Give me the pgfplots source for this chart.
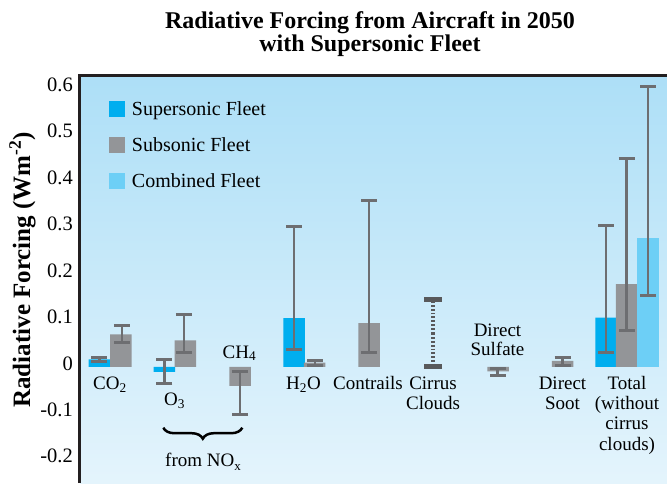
\documentclass[border=0pt]{standalone}
\usepackage{pgfplots}
\pgfplotsset{compat=1.18}
\usepackage{fontspec}
\setmainfont{Liberation Serif}
\usetikzlibrary{decorations.pathreplacing}
\definecolor{superc}{HTML}{00AEEF}
\definecolor{subc}{HTML}{939598}
\definecolor{combc}{HTML}{6DCFF6}
\definecolor{errc}{HTML}{6D6E71}
\definecolor{circ}{HTML}{58595B}
\definecolor{bgtop}{HTML}{ADDFF7}
\definecolor{bgbot}{HTML}{E4F4FC}
\definecolor{bordc}{HTML}{231F20}
\begin{document}
\begin{tikzpicture}
\begin{axis}[
  name=ax, scale only axis, width=587pt, height=407pt,
  xmin=80, xmax=667, ymin=-0.25, ymax=0.626,
  axis line style={draw=none}, tick style={draw=none},
  xtick=\empty,
  ytick={-0.2,-0.1,0,0.1,0.2,0.3,0.4,0.5,0.6},
  yticklabels={-0.2,-0.1,0,0.1,0.2,0.3,0.4,0.5,0.6},
  yticklabel style={font=\fontsize{20.5}{24}\selectfont, inner sep=0pt, xshift=-7pt, yshift=3.5pt},
  ylabel={Radiative Forcing (Wm\textsuperscript{-2})},
  ylabel style={at={(axis description cs:-0.098,0.524)}, anchor=center, font=\bfseries\fontsize{25}{28}\selectfont},
  axis background/.style={top color=bgtop, bottom color=bgbot},
  clip=false,
  legend cell align=left,
  legend style={at={(axis cs:109,0.572)}, anchor=north west, draw=none, fill=none,
    inner sep=0pt, outer sep=0pt, row sep=17pt, column sep=7pt,
    font=\fontsize{20}{24}\selectfont,
    cells={anchor=base west},
    nodes={inner sep=0pt, text height=14pt, text depth=5pt}},
  legend image code/.code={\fill[#1] (0pt,-2pt) rectangle (16pt,14pt);},
]
\addlegendimage{fill=superc, draw=none}
\addlegendentry{Supersonic Fleet}
\addlegendimage{fill=subc, draw=none}
\addlegendentry{Subsonic Fleet}
\addlegendimage{fill=combc, draw=none}
\addlegendentry{Combined Fleet}

% Supersonic fleet
\addplot[ybar, bar width=21.5, bar shift=0pt, fill=superc, draw=none] coordinates {
  (99.5,0.016) (164.5,-0.011) (294,0.105) (606,0.106)};
% Subsonic fleet
\addplot[ybar, bar width=21.5, bar shift=0pt, fill=subc, draw=none] coordinates {
  (121,0.070) (185.5,0.057) (240,-0.041) (314.5,0.009) (369,0.094) (498,-0.010) (562.5,0.013) (626.5,0.178)};
% Combined fleet
\addplot[ybar, bar width=21.5, bar shift=0pt, fill=combc, draw=none] coordinates {
  (648,0.277)};

% Error bars (midpoint +- half range)
\addplot[draw=none, mark=none, error bars/.cd, y dir=both, y explicit,
  error bar style={draw=errc, solid, line width=2.5pt},
  error mark options={draw=errc, solid, line width=3pt, mark size=8pt, rotate=90}] coordinates {
  (99.5,0.0155) +- (0,0.0045)
  (122,0.070) +- (0,0.018)
  (164.5,-0.010) +- (0,0.025)
  (184,0.0715) +- (0,0.0405)
  (240,-0.0555) +- (0,0.0465)
  (294,0.170) +- (0,0.133)
  (315,0.008) +- (0,0.006)
  (369,0.195) +- (0,0.164)
  (497.5,-0.011) +- (0,0.008)
  (562.5,0.0115) +- (0,0.0095)
  (606,0.168) +- (0,0.137)
  (626.5,0.2635) +- (0,0.1855)
  (648,0.378) +- (0,0.225)};
% Cirrus clouds range
\addplot[draw=none, mark=none, error bars/.cd, y dir=both, y explicit,
  error bar style={draw=circ, line width=4pt, dash pattern=on 1.8pt off 2pt},
  error mark options={draw=circ, solid, line width=5pt, mark size=9pt, rotate=90}] coordinates {
  (433,0.072) +- (0,0.072)};

% Category labels
\begin{scope}[every node/.style={font=\fontsize{19}{22}\selectfont, anchor=base, inner sep=0pt}]
\node at (axis cs:110,-0.0495) {CO\textsubscript{2}};
\node at (axis cs:174.5,-0.0839) {O\textsubscript{3}};
\node at (axis cs:239.5,0.0187) {CH\textsubscript{4}};
\node at (axis cs:303.5,-0.0495) {H\textsubscript{2}O};
\node at (axis cs:368,-0.048) {Contrails};
\node at (axis cs:433,-0.048) {Cirrus};
\node at (axis cs:433,-0.0925) {Clouds};
\node at (axis cs:497.5,0.0652) {Direct};
\node at (axis cs:497.5,0.0237) {Sulfate};
\node at (axis cs:562.5,-0.048) {Direct};
\node at (axis cs:562.5,-0.0925) {Soot};
\node at (axis cs:627,-0.048) {Total};
\node at (axis cs:627,-0.0925) {(without};
\node at (axis cs:627,-0.1355) {cirrus};
\node at (axis cs:627,-0.179) {clouds)};
\node at (axis cs:203,-0.2144) {from NO\raisebox{-0.45ex}{\fontsize{13}{13}\selectfont x}};
\end{scope}
\draw[decorate, decoration={brace, mirror, amplitude=11pt}, line width=2.5pt, black]
  (axis cs:163.3,-0.131) -- (axis cs:242.3,-0.131);

% Title
\node[anchor=base, font=\bfseries\fontsize{24}{30}\selectfont] at ([yshift=47pt]axis description cs:0.494,1) {Radiative Forcing from Aircraft in 2050};
\node[anchor=base, font=\bfseries\fontsize{24}{30}\selectfont] at ([yshift=24pt]axis description cs:0.494,1) {with Supersonic Fleet};
\end{axis}
\draw[line width=3pt, bordc] (ax.south west) -- (ax.north west) -- (ax.north east);
\pgfresetboundingbox
\path[use as bounding box] ([xshift=-80pt, yshift=-2pt]ax.south west) rectangle ([yshift=76pt]ax.north east);
\end{tikzpicture}
\end{document}
